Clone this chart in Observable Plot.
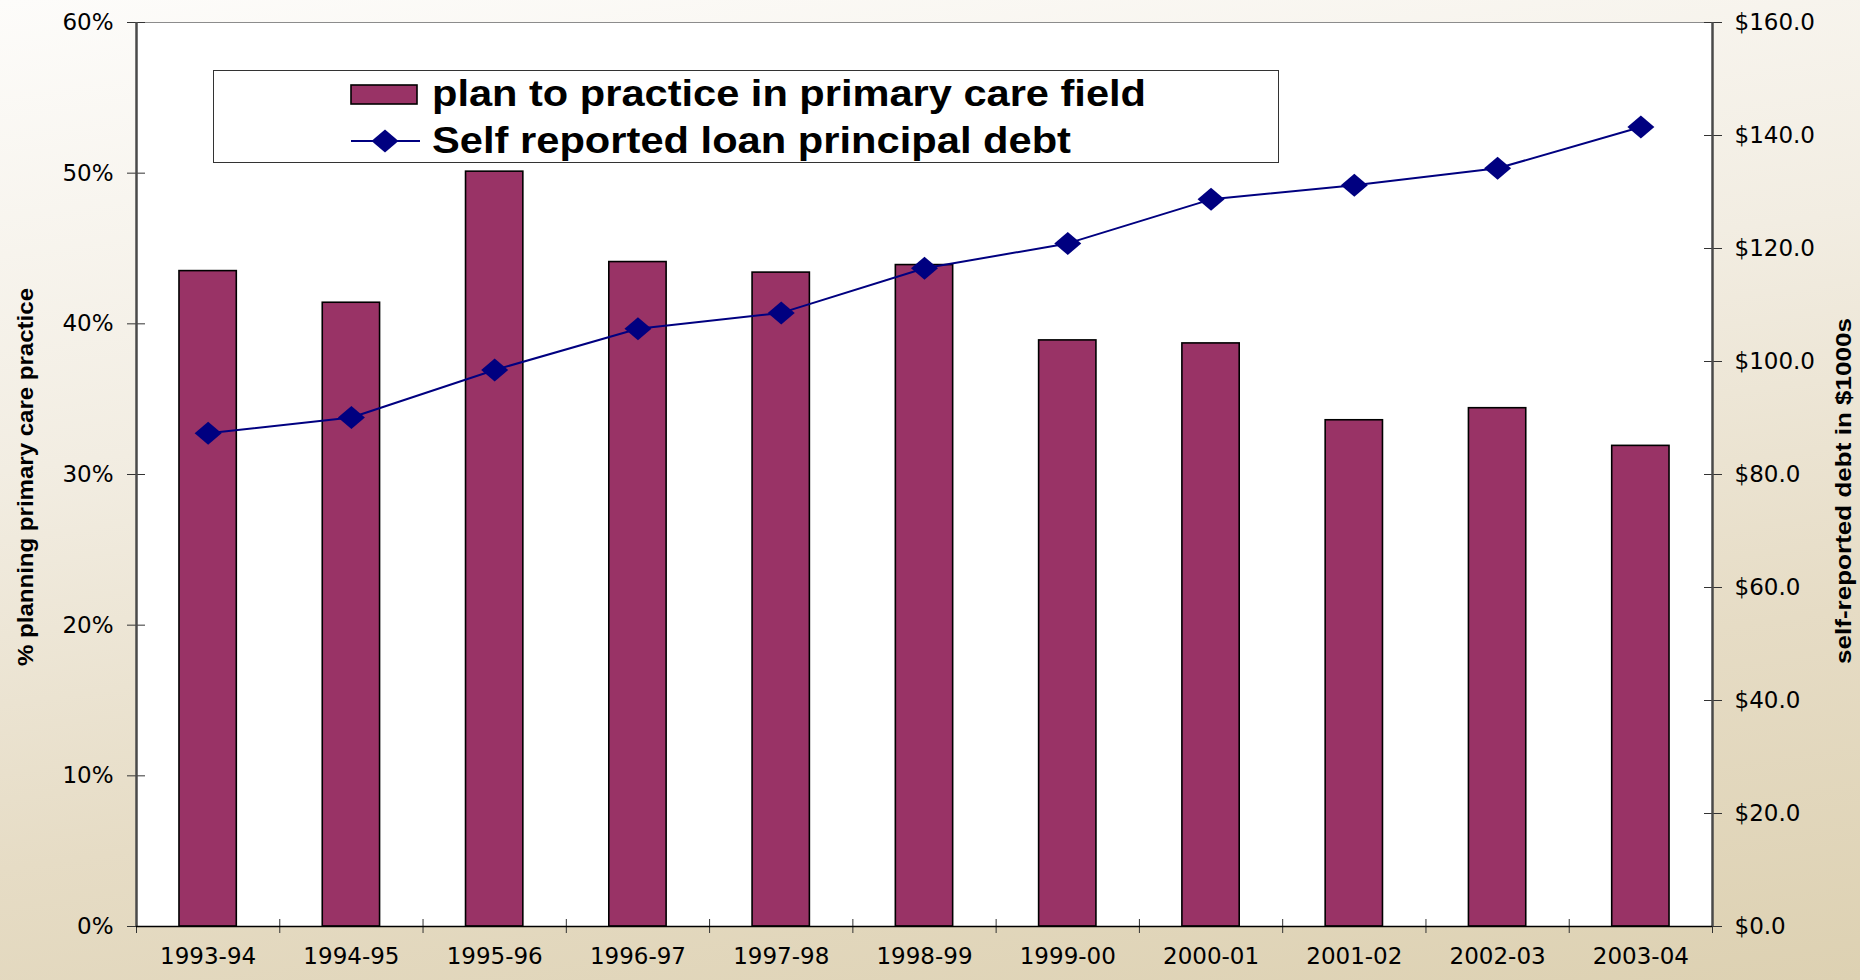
<!DOCTYPE html>
<html><head><meta charset="utf-8">
<script src="https://cdn.jsdelivr.net/npm/d3@7"></script>
<script src="https://cdn.jsdelivr.net/npm/@observablehq/plot@0.6"></script>
<style>
html,body{margin:0;padding:0;}
body{width:1860px;height:980px;overflow:hidden;background:linear-gradient(172deg,#fdfcfa 0%,#f2ede2 38%,#e6dcc5 70%,#ddd1b2 100%);}
#chart{position:absolute;left:0;top:0;}
</style></head><body><div id="chart"></div>
<script>
const years = ["1993-94","1994-95","1995-96","1996-97","1997-98","1998-99","1999-00","2000-01","2001-02","2002-03","2003-04"];
const pctValues = [43.5, 41.4, 50.1, 44.1, 43.4, 43.9, 38.9, 38.7, 33.6, 34.4, 31.9];
const debtValues = [87.3, 90.1, 98.5, 105.8, 108.6, 116.5, 120.9, 128.7, 131.2, 134.2, 141.5];
const pctTicks = [0, 10, 20, 30, 40, 50, 60];
const debtTicks = [0, 20, 40, 60, 80, 100, 120, 140, 160];
const legendLabels = ["plan to practice in primary care field", "Self reported loan principal debt"];
const leftTitle = "% planning primary care practice";
const rightTitle = "self-reported debt in $1000s";

const pctMax = 60, debtMax = 160;
const toPct = v => v * pctMax / debtMax;
const W = 1860, H = 980, mL = 136, mR = 148, mT = 22, mB = 54;
const n = years.length;
const data = years.map((y, i) => ({i, year: y, pct: pctValues[i], debt: debtValues[i]}));

const barColor = "#993366", lineColor = "#000080";
const diamond = {draw(ctx) { const w = 13.5, h = 11.5; ctx.moveTo(-w, 0); ctx.lineTo(0, -h); ctx.lineTo(w, 0); ctx.lineTo(0, h); ctx.closePath(); }};

const plot = Plot.plot({
  width: W, height: H, marginLeft: mL, marginRight: mR, marginTop: mT, marginBottom: mB,
  style: {background: "transparent", fontFamily: "DejaVu Sans", fontSize: "23px", color: "#000"},
  x: {type: "linear", domain: [0, n], label: null},
  y: {domain: [0, pctMax], label: null},
  marks: [
    Plot.frame({fill: "white", stroke: "#8c8c8c", strokeWidth: 1}),
    Plot.rectY(data, {x1: d => d.i + 0.3, x2: d => d.i + 0.7, y: "pct", fill: barColor, stroke: "#000", strokeWidth: 1.6}),
    Plot.line(data, {x: d => d.i + 0.5, y: d => toPct(d.debt), stroke: lineColor, strokeWidth: 2}),
    Plot.dot(data, {x: d => d.i + 0.5, y: d => toPct(d.debt), symbol: diamond, fill: lineColor, stroke: "none", r: 5}),
    Plot.axisY({anchor: "left", ticks: pctTicks, tickSize: 18, dx: 9, tickFormat: () => "", label: null, stroke: "#333"}),
    Plot.axisY({anchor: "left", ticks: pctTicks, tickSize: 0, tickPadding: 23, tickFormat: d => d + "%", label: null}),
    Plot.axisY({anchor: "right", ticks: debtTicks.map(toPct), tickSize: 18, dx: -9, tickFormat: () => "", label: null, stroke: "#333"}),
    Plot.axisY({anchor: "right", ticks: debtTicks.map(toPct), tickSize: 0, tickPadding: 22, tickFormat: d => "$" + (d * debtMax / pctMax).toFixed(1), label: null}),
    Plot.axisX({ticks: d3.range(n + 1), tickSize: 14, dy: -7, tickFormat: () => "", label: null, stroke: "#333"}),
    Plot.axisX({ticks: years.map((d, i) => i + 0.5), tickSize: 0, tickPadding: 21, tickFormat: d => years[Math.floor(d)], label: null}),
    Plot.ruleX([0, n], {stroke: "#4a4a4a", strokeWidth: 2.5}),
    Plot.ruleY([0], {stroke: "#000", strokeWidth: 1.5})
  ]
});
document.getElementById("chart").appendChild(plot);

const svg = d3.select(plot);
// axis titles
svg.append("text").attr("transform", "translate(25.5,477) rotate(-90)")
  .attr("text-anchor", "middle").attr("dominant-baseline", "central")
  .attr("font-family", "Liberation Sans").attr("font-weight", "bold").attr("font-size", 22)
  .attr("textLength", 378).attr("lengthAdjust", "spacingAndGlyphs").text(leftTitle);
svg.append("text").attr("transform", "translate(1843,491) rotate(-90)")
  .attr("text-anchor", "middle").attr("dominant-baseline", "central")
  .attr("font-family", "Liberation Sans").attr("font-weight", "bold").attr("font-size", 22)
  .attr("textLength", 346).attr("lengthAdjust", "spacingAndGlyphs").text(rightTitle);

// legend
const lg = svg.append("g").attr("font-family", "Liberation Sans").attr("font-weight", "bold").attr("font-size", 36).attr("text-anchor", "start");
lg.append("rect").attr("x", 213.5).attr("y", 70.5).attr("width", 1065).attr("height", 92).attr("fill", "white").attr("stroke", "#333").attr("stroke-width", 1);
lg.append("rect").attr("x", 351).attr("y", 85).attr("width", 66).attr("height", 19).attr("fill", barColor).attr("stroke", "#000").attr("stroke-width", 1.6);
lg.append("text").attr("x", 432).attr("y", 106).attr("text-anchor", "start").attr("textLength", 714).attr("lengthAdjust", "spacingAndGlyphs").text(legendLabels[0]);
lg.append("line").attr("x1", 351).attr("x2", 420).attr("y1", 141).attr("y2", 141).attr("stroke", lineColor).attr("stroke-width", 2);
lg.append("path").attr("d", "M371.5,141L385,129.5L398.5,141L385,152.5Z").attr("fill", lineColor);
lg.append("text").attr("x", 432).attr("y", 153).attr("text-anchor", "start").attr("textLength", 639).attr("lengthAdjust", "spacingAndGlyphs").text(legendLabels[1]);
</script>
</body></html>
